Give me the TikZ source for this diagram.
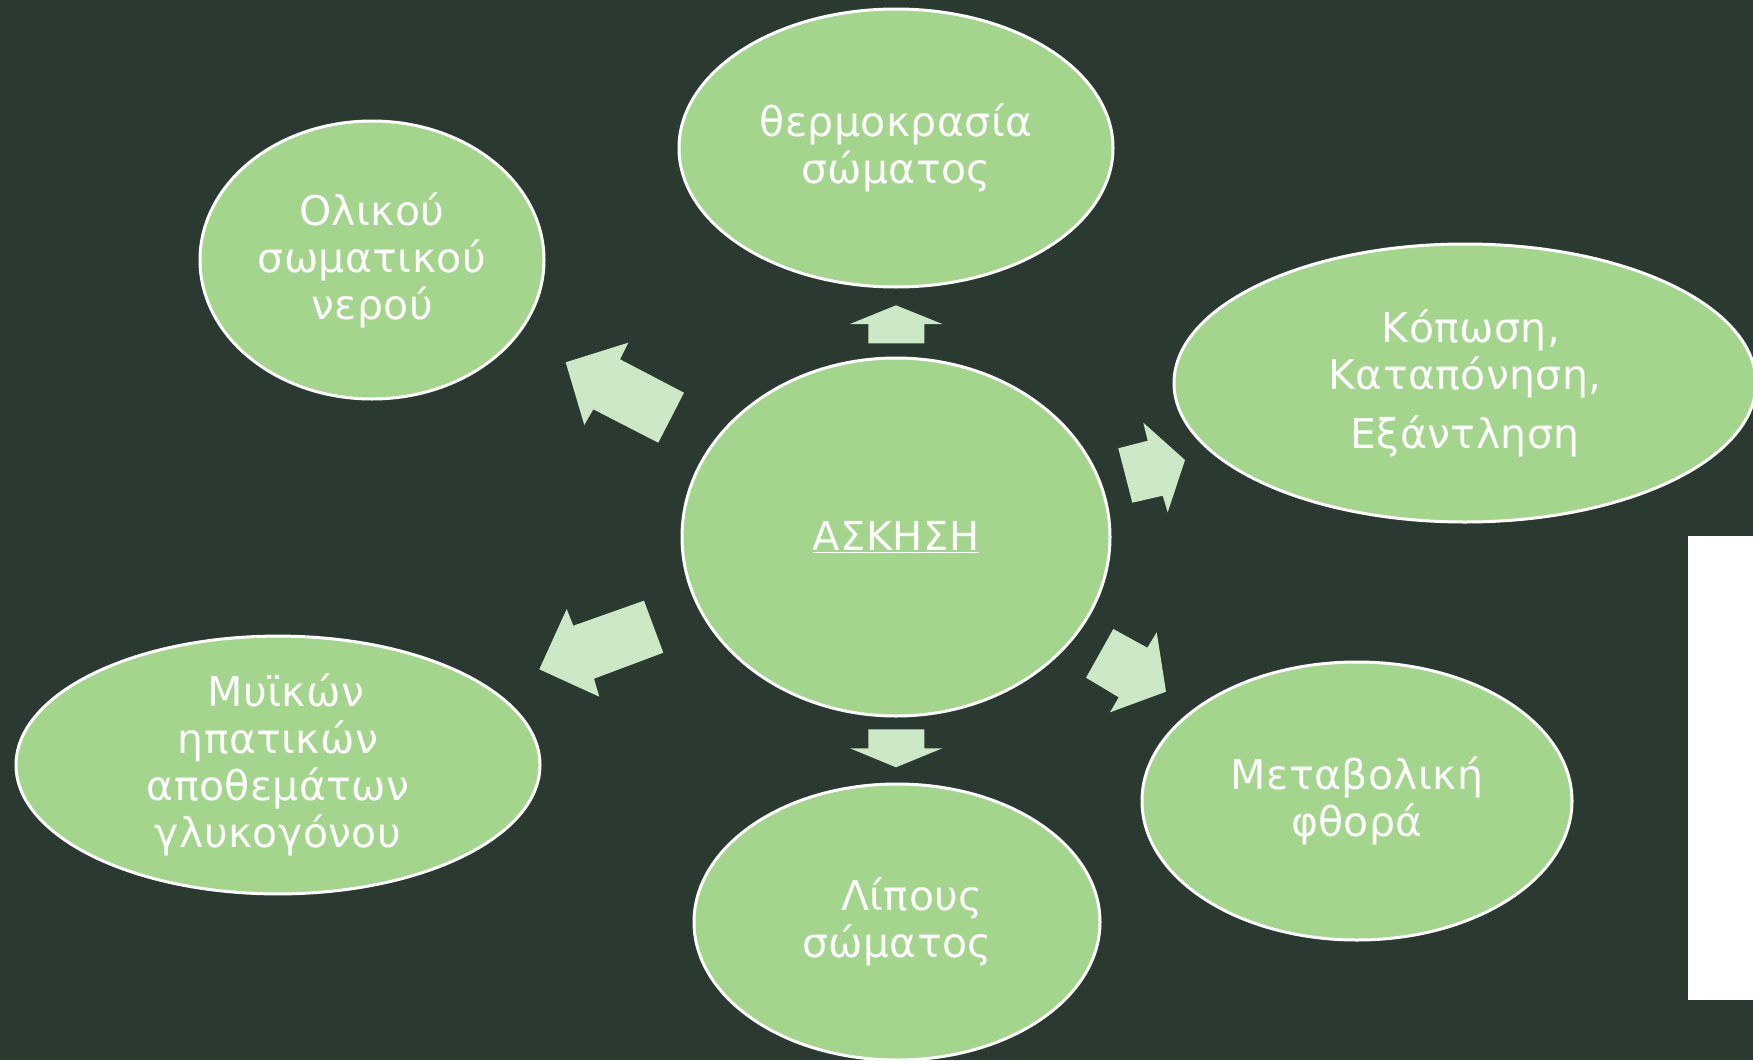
\documentclass[tikz,border=0pt]{standalone}
\usepackage{fontspec}
\setmainfont{DejaVu Sans}[LetterSpace=1.0]
\usetikzlibrary{shapes.geometric}

\definecolor{bg}{HTML}{2B3A31}
\definecolor{bubblefill}{HTML}{A3D58C}
\definecolor{arrowfill}{HTML}{CDE8C6}

\begin{document}
\begin{tikzpicture}[x=1pt,y=-1pt,
  bubble/.style={ellipse, draw=white, line width=3pt, fill=bubblefill,
    inner sep=0pt, text=white, align=center,
    font=\fontsize{41}{47}\selectfont},
  blockarrow/.style={fill=arrowfill}]

% page background and the white panel on the right
\fill[bg] (0,0) rectangle (1753,1060);
\useasboundingbox (0,0) rectangle (1753,1060);
\fill[white] (1688,536) rectangle (1753,1000);

% central bubble
\node[bubble, minimum width=428pt, minimum height=358pt,
      font=\fontsize{40}{47}\selectfont] (ex) at (896,537) {\underline{ΑΣΚΗΣΗ}};

% surrounding bubbles
\node[bubble, minimum width=434pt, minimum height=278pt] (temp) at (896,148)
  {θερμοκρασία\\σώματος};
\node[bubble, minimum width=344pt, minimum height=278pt] (water) at (372,260)
  {Ολικού\\σωματικού\\νερού};
\node[bubble, minimum width=582pt, minimum height=278pt] (fatigue) at (1465,383)
  {\hspace*{12pt}Κόπωση,\\Καταπόνηση,\\[12pt]Εξάντληση};
\node[bubble, minimum width=524pt, minimum height=254pt] (glyc) at (278,765)
  {\hspace*{16pt}Μυϊκών\\ηπατικών\\αποθεμάτων\\γλυκογόνου};
\node[bubble, minimum width=406pt, minimum height=276pt] (fat) at (897,922)
  {\hspace*{30pt}Λίπους\\σώματος};
\node[bubble, minimum width=430pt, minimum height=278pt] (metab) at (1357,801)
  {Μεταβολική\\φθορά};

% block arrows from the centre outwards
\fill[blockarrow] (896,305.3) -- (942.3,324) -- (924.3,324) -- (924.3,343.3)
  -- (868.3,343.3) -- (868.3,324) -- (850,324) -- cycle;
\fill[blockarrow] (896,767.3) -- (942.3,748.3) -- (924.3,748.3) -- (924.3,729.3)
  -- (868.3,729.3) -- (868.3,748.3) -- (850,748.3) -- cycle;
\fill[blockarrow] (565.7,362.3) -- (628.3,342.7) -- (620,359.3) -- (684,392.7)
  -- (658.3,442.7) -- (593.3,409.3) -- (584.3,425) -- cycle;
\fill[blockarrow] (1185,460) -- (1143.3,422.7) -- (1147.7,440.7) -- (1118.3,448.3)
  -- (1132.3,502.7) -- (1162.7,495.7) -- (1167.7,512.3) -- cycle;
\fill[blockarrow] (539.3,669.3) -- (566.7,609) -- (573.3,625.7) -- (644,600.7)
  -- (663.3,652.7) -- (594,678.7) -- (599.3,696.7) -- cycle;
\fill[blockarrow] (1166,691.7) -- (1156.7,632.3) -- (1147.3,647.7) -- (1113.3,629)
  -- (1086,677.7) -- (1118.7,697.3) -- (1110,712.3) -- cycle;
\end{tikzpicture}
\end{document}
